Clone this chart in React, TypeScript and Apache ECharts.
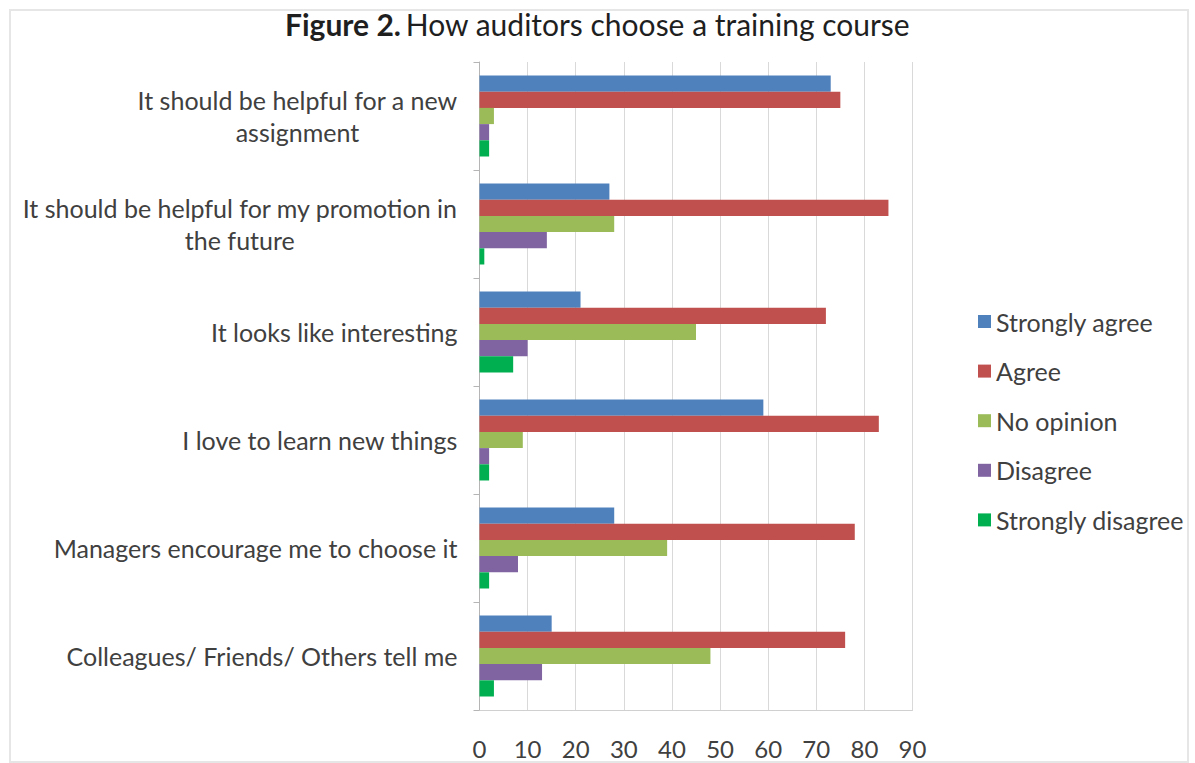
import React, { useEffect, useRef } from "react";
import * as echarts from "echarts";

const categories = [
  "It should be helpful for a new\nassignment",
  "It should be helpful for my promotion in\nthe future",
  "It looks like interesting",
  "I love to learn new things",
  "Managers encourage me to choose it",
  "Colleagues/ Friends/ Others tell me",
];
const seriesNames = ["Strongly agree", "Agree", "No opinion", "Disagree", "Strongly disagree"];
const stronglyAgree = [73, 27, 21, 59, 28, 15];
const agree = [75, 85, 72, 83, 78, 76];
const noOpinion = [3, 28, 45, 9, 39, 48];
const disagree = [2, 14, 10, 2, 8, 13];
const stronglyDisagree = [2, 1, 7, 2, 2, 3];
const seriesValues = [stronglyAgree, agree, noOpinion, disagree, stronglyDisagree];
const colors = ["#4F81BD", "#C0504D", "#9BBB59", "#8064A2", "#00B050"];
const titleBold = "Figure 2.";
const titleRest = "How auditors choose a training course";

const FONT = "Lato, 'Open Sans', sans-serif";

export default function App() {
  const ref = useRef<HTMLDivElement>(null);
  useEffect(() => {
    if (!ref.current) return;
    const chart = echarts.init(ref.current, undefined, { renderer: "svg" });
    chart.setOption({
      animation: false,
      backgroundColor: "#ffffff",
      textStyle: { fontFamily: FONT },
      title: {
        text: `{b|${titleBold}} {r|${titleRest}}`,
        left: "center",
        top: 4,
        textStyle: {
          fontWeight: "normal",
          rich: {
            b: { fontFamily: FONT, fontSize: 30, fontWeight: "bold", color: "#1f1f1f" },
            r: { fontFamily: FONT, fontSize: 30, fontWeight: "normal", color: "#1f1f1f" },
          },
        },
      },
      color: colors,
      legend: {
        orient: "vertical",
        left: 973,
        top: 303,
        icon: "rect",
        itemWidth: 13,
        itemHeight: 13,
        itemGap: 22.6,
        itemTextGap: 8,
        textStyle: { fontFamily: FONT, fontSize: 25, color: "#404040", lineHeight: 27 },
        data: seriesNames,
      },
      grid: { left: 479.5, right: 282.5, top: 62, bottom: 53, containLabel: false },
      xAxis: {
        type: "value",
        min: 0,
        max: 90,
        interval: 10,
        axisLine: { show: true, lineStyle: { color: "#d0d0d0" } },
        axisTick: { show: false },
        splitLine: { show: true, lineStyle: { color: "#d9d9d9", width: 1 } },
        axisLabel: { fontFamily: FONT, fontSize: 24, color: "#404040", margin: 26, lineHeight: 24 },
      },
      yAxis: {
        type: "category",
        inverse: true,
        data: categories,
        axisLine: { show: true, lineStyle: { color: "#b5b5b5" } },
        axisTick: { show: true, length: 6, interval: 0, lineStyle: { color: "#b5b5b5" } },
        splitLine: { show: false },
        axisLabel: {
          margin: 22,
          interval: 0,
          formatter: (v: string) => v.split("\n").map((l) => `{c|${l}}`).join("\n"),
          rich: {
            c: { fontFamily: FONT, fontSize: 25, color: "#404040", align: "center", lineHeight: 32 },
          },
        },
      },
      graphic: [
        {
          type: "rect",
          shape: { x: 10, y: 10, width: 1178, height: 752 },
          style: { fill: "none", stroke: "#e6e6e6", lineWidth: 2 },
          silent: true,
          z: -1,
        },
      ],
      series: seriesNames.map((name, i) => ({
        name,
        type: "bar",
        data: seriesValues[i],
        barGap: "0%",
        barCategoryGap: "25%",
        itemStyle: { color: colors[i] },
      })),
    });
    return () => chart.dispose();
  }, []);
  return (
    <div
      ref={ref}
      style={{ position: "fixed", left: 0, top: 0, width: 1195, height: 763 }}
    />
  );
}
